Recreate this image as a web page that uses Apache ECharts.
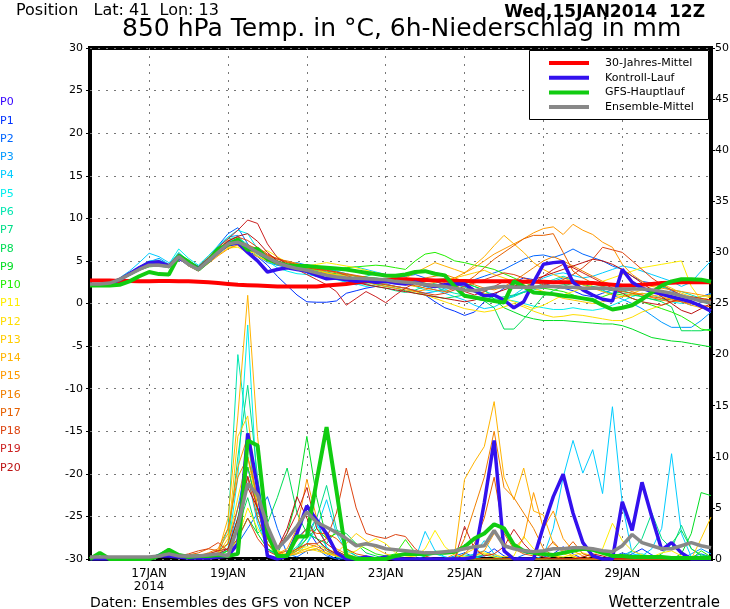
<!DOCTYPE html>
<html style="height: 100%">
<head>
    <meta charset="utf-8">
    <script src="https://cdn.jsdelivr.net/npm/echarts@6.0.0/dist/echarts.min.js"></script>
</head>
<body style="height: 100%; margin: 0; background: #fff">
    <div id="container" style="width: 730px; height: 609px"></div>
    <script type="text/javascript">
        var myChart = echarts.init(document.getElementById('container'));

        // time steps: 6-hourly from 15JAN 12Z (64 steps)
        const startDay = 15, startHour = 12, stepHours = 6, nSteps = 64;
        const times = [];
        for (let i = 0; i < nSteps; i++) {
            const h = startHour + i * stepHours;
            times.push((startDay + Math.floor(h / 24)) + 'JAN' + String(h % 24).padStart(2, '0') + 'Z');
        }
        const tickDays = ['17', '19', '21', '23', '25', '27', '29'];
        const yearLabel = '2014';

        const tempTicks = [-30, 30, 5];
        const precipTicks = [0, 50, 5];

        const memberNames = ['P0','P1','P2','P3','P4','P5','P6','P7','P8','P9','P10',
                             'P11','P12','P13','P14','P15','P16','P17','P18','P19','P20'];
        const memberColors = ['#3300ff','#0033ff','#0066ff','#0099ff','#00ccff','#00eeee','#00e6b0',
                              '#00dd88','#00dd55','#00dd22','#22ee00','#ffee00','#ffdd00','#ffcc00',
                              '#ffb300','#ff9900','#f08000','#e66000','#dd4411','#cc2222','#bb1111'];

        // 850 hPa temperature, members P1..P20 (°C)
        const memberTemp = [
            [2.2,2.2,2.3,2.7,3.3,4.0,4.6,4.7, 4.2,5.3,4.4,3.8,4.9,6.1,7.2,7.5, 6.2,5.5,4.5,3.2,2.1,1.0,0.2,0.15, 0.15,0.3,1.2,1.5,1.8,2.0,2.3,2.0, 1.8,1.5,1.0,0.2,-0.5,-0.9,-1.4,-1.0, 0.2,1.0,1.8,2.5,3.0,2.8,2.4,2.0, 1.8,1.5,1.0,0.8,1.2,1.6,2.0,2.2, 1.8,1.4,1.0,0.6,0.2,-0.2,0.1,0.4],
            [2.3,2.3,2.4,2.9,3.5,4.2,4.7,4.8, 4.4,5.8,4.8,4.1,5.2,6.8,8.2,8.9, 7.0,5.8,5.0,4.5,4.2,4.0,3.6,3.2, 3.0,2.9,2.5,2.2,2.4,2.6,2.8,3.0, 3.2,3.4,3.0,2.6,2.2,2.0,2.4,2.8, 3.2,3.6,4.0,4.6,5.2,5.6,5.7,5.4, 5.8,6.4,5.8,5.4,5.0,4.4,4.0,3.2, 2.6,2.4,2.0,1.5,1.0,0.6,0.8,1.2],
            [2.2,2.2,2.4,2.9,3.6,4.3,4.9,5.3, 4.6,5.9,4.9,4.2,5.3,6.6,7.8,8.0, 6.5,5.6,4.8,4.5,4.6,4.8,4.5,4.2, 4.0,3.8,3.5,3.2,3.0,2.6,2.2,2.0, 1.8,1.5,1.2,1.4,1.8,2.2,2.0,1.6, 1.2,0.9,0.6,0.9,1.4,1.8,2.2,2.6, 3.0,2.8,2.5,2.0,1.6,1.0,0.5,0.0, -0.6,-1.4,-2.2,-2.8,-2.8,-2.8,-2.0,-1.0],
            [2.3,2.3,2.5,3.0,3.8,4.8,5.9,5.5, 4.8,5.6,4.7,4.1,5.0,6.2,7.3,7.6, 6.8,6.0,5.2,4.6,4.3,4.1,4.0,3.8, 3.7,3.9,4.2,4.3,4.0,3.7,3.4,3.0, 2.7,2.4,2.0,1.6,1.2,0.8,0.4,-0.2, -0.6,-0.4,0.2,1.0,1.8,2.4,3.0,3.4, 3.6,3.3,3.0,3.2,3.6,4.0,4.4,4.2, 3.8,3.4,3.0,2.6,2.0,2.5,3.8,5.0],
            [2.2,2.2,2.3,2.8,3.5,4.3,5.0,5.1, 4.6,6.4,5.3,4.5,5.6,6.8,7.8,8.6, 8.2,6.4,5.0,4.2,3.8,3.5,3.4,3.2, 3.0,2.8,2.5,2.3,2.0,2.2,2.4,2.6, 2.4,2.0,1.6,1.4,1.6,2.0,2.4,2.0, 1.5,1.0,0.5,0.3,0.0,-0.3,-0.5,-0.7, -0.7,-0.5,-0.7,-0.8,-0.6,-0.2,0.3,0.8, 1.2,1.0,0.6,0.2,0.0,0.4,0.8,1.0],
            [2.3,2.3,2.4,2.8,3.5,4.2,4.8,4.9, 4.5,6.0,5.0,4.4,5.4,6.6,7.6,7.8, 6.9,5.9,5.0,4.6,4.4,4.2,4.0,3.9, 3.7,3.4,3.2,3.0,3.2,3.5,3.3,3.0, 2.8,2.6,2.4,2.0,1.5,1.2,1.0,0.8, 0.6,0.4,0.5,0.8,1.3,1.8,2.4,2.8, 3.2,2.8,2.2,1.8,1.5,1.2,1.4,1.8, 2.2,2.4,2.0,1.6,1.4,1.0,0.6,0.2],
            [2.2,2.2,2.3,2.7,3.3,3.9,4.4,4.4, 4.2,5.4,4.5,3.9,4.8,5.9,6.8,7.0, 6.5,6.0,5.5,5.0,4.6,4.4,4.1,3.8, 3.5,3.2,2.9,2.6,2.3,2.0,1.8,1.5, 1.3,1.6,2.0,2.4,2.6,2.3,1.9,1.4, 0.9,0.6,0.8,1.0,1.3,1.6,1.8,2.0, 2.2,2.4,2.6,2.3,2.0,1.8,1.5,1.2, 0.8,0.5,0.4,0.6,0.8,0.6,0.2,-0.1],
            [2.3,2.3,2.4,2.8,3.4,4.0,4.5,4.6, 4.4,5.5,4.7,4.1,5.1,6.2,7.1,7.4, 6.6,5.8,5.1,4.7,4.3,4.0,3.8,3.5, 3.3,3.1,2.9,2.7,2.5,2.3,2.0,1.8, 1.5,1.2,1.0,0.8,0.6,0.8,1.0,0.6, 0.3,-0.5,-3.0,-3.0,-1.8,-0.5,0.9,1.5, 2.0,2.4,2.2,2.0,1.8,1.5,1.2,1.0, 0.8,0.5,0.2,-0.4,-3.2,-3.2,-3.2,-3.0],
            [2.2,2.2,2.3,2.7,3.4,4.1,4.6,4.5, 4.3,5.4,4.6,4.0,4.9,5.9,6.9,7.2, 6.6,6.0,5.4,4.9,4.5,4.2,4.0,3.8, 3.6,3.5,3.4,3.2,3.1,3.0,2.8,2.6, 2.5,2.4,2.6,2.8,2.9,2.7,2.4,2.0, 1.6,0.5,-0.5,-1.0,-1.5,-1.8,-2.0,-2.0, -2.0,-2.1,-2.2,-2.3,-2.4,-2.4,-2.6,-3.0, -3.5,-4.0,-4.2,-4.4,-4.5,-4.7,-4.9,-5.1],
            [2.3,2.3,2.4,2.8,3.3,3.9,4.3,4.4, 4.3,5.3,4.5,3.9,4.8,5.8,6.8,7.1, 6.5,5.9,5.3,4.8,4.4,4.2,4.1,4.0, 4.0,4.1,4.2,4.3,4.4,4.5,4.4,4.2, 4.0,5.0,5.8,6.0,5.6,5.0,4.8,4.5, 4.3,4.0,3.5,3.0,2.5,2.0,1.8,1.6, 1.4,1.0,0.6,0.4,0.8,1.2,1.0,0.6, 0.2,-0.2,-0.6,-1.0,-1.5,-2.2,-3.0,-3.2],
            [2.2,2.2,2.4,2.9,3.6,4.2,4.6,4.5, 4.4,5.2,4.8,4.3,4.9,5.7,6.5,6.6, 6.0,6.0,6.2,5.5,4.8,4.6,4.4,4.6, 4.8,4.6,4.4,4.2,3.9,3.6,3.3,3.0, 2.8,2.6,2.4,2.2,2.0,1.8,1.6,1.4, 1.2,1.0,0.6,0.2,-0.2,-0.6,-0.2,0.4, 1.0,1.4,1.8,2.2,2.6,3.0,3.4,3.8, 4.2,4.4,4.6,4.8,5.0,2.0,0.4,0.8],
            [2.3,2.3,2.4,2.8,3.5,4.1,4.6,4.6, 4.2,5.3,4.6,4.0,4.9,6.0,6.9,7.0, 6.4,5.6,5.0,4.6,4.3,4.2,4.0,3.8, 3.6,3.4,3.2,3.0,2.8,2.5,2.2,2.0, 1.8,1.4,1.0,0.6,0.2,-0.2,-0.6,-0.8, -1.0,-0.8,-0.4,0.0,-0.4,-0.9,-1.3,-1.6, -1.5,-1.3,-1.4,-1.6,-1.8,-2.0,-2.0,-1.6, -1.0,-0.6,-0.2,0.2,0.4,0.6,0.8,1.0],
            [2.2,2.2,2.3,2.8,3.5,4.2,4.8,4.9, 4.4,5.6,4.6,4.0,5.1,6.1,6.6,6.8, 6.0,5.5,5.0,4.8,4.6,4.4,4.2,4.0, 3.6,3.3,3.1,3.0,2.8,2.6,2.5,2.4, 2.2,2.0,2.2,2.5,2.8,3.0,3.3,3.6, 3.9,3.4,3.0,2.6,2.2,1.8,1.4,1.0, 0.6,0.4,0.2,0.0,0.2,0.5,0.8,1.2, 1.6,2.0,2.3,1.8,1.2,0.8,0.5,0.3],
            [2.3,2.3,2.5,3.0,3.6,4.3,4.9,5.0, 4.5,5.4,4.4,3.8,4.8,5.9,6.9,7.0, 6.4,5.9,5.4,4.9,4.6,4.3,4.0,3.7, 3.5,3.3,3.0,2.8,2.6,2.4,2.4,2.6, 3.0,3.6,4.2,4.8,4.4,4.0,3.6,4.5, 5.5,6.8,8.0,7.0,6.0,4.8,4.0,3.4, 3.0,2.6,2.2,1.8,1.4,1.0,0.8,1.0, 1.2,1.0,0.8,0.5,0.2,-0.2,-0.5,-0.8],
            [2.2,2.2,2.3,2.8,3.4,4.0,4.5,4.7, 4.3,5.2,4.5,3.9,4.7,5.6,6.4,6.9, 6.6,6.2,5.6,5.0,4.6,4.2,3.9,3.6, 3.4,3.2,3.0,2.8,2.5,2.2,2.0,1.8, 1.6,1.4,1.6,2.0,2.5,3.0,3.6,4.2, 5.0,5.8,6.4,7.0,7.6,8.3,8.8,9.0, 8.1,9.3,8.6,8.1,7.2,6.6,4.6,3.4, 2.6,2.0,1.8,1.6,1.4,1.2,1.0,0.8],
            [2.3,2.3,2.4,2.8,3.4,4.1,4.7,4.8, 4.5,5.7,4.8,4.2,5.1,6.2,7.0,7.3, 6.8,6.2,5.6,5.2,5.0,4.7,4.4,4.0, 3.8,3.6,3.4,3.2,3.0,2.8,2.6,2.5, 2.6,2.8,3.0,3.2,3.4,3.0,2.6,2.2, 1.8,1.6,2.0,2.6,3.4,4.2,5.0,5.5, 5.0,4.4,3.8,3.2,2.6,2.2,1.8,1.4, 1.0,0.7,0.4,0.2,0.4,0.6,0.3,0.0],
            [2.2,2.2,2.3,2.8,3.5,4.2,4.8,4.8, 4.4,5.6,4.7,4.1,5.0,6.0,7.1,7.4, 6.9,6.4,5.7,5.3,4.9,4.6,4.3,4.1, 3.9,3.7,3.5,3.3,3.1,2.9,2.7,2.5, 2.3,2.1,1.8,1.6,1.4,1.8,2.4,3.2, 4.2,5.2,6.0,6.8,7.6,8.0,8.0,8.2, 6.0,3.8,3.0,2.4,2.0,1.6,1.4,1.2, 1.0,0.8,0.6,0.4,0.2,0.0,-0.2,-0.4],
            [2.3,2.3,2.4,2.9,3.5,4.2,4.7,4.6, 4.4,5.8,5.0,4.3,5.3,6.4,7.4,7.8, 7.4,6.6,5.8,5.2,4.8,4.5,4.2,4.0, 3.9,3.7,3.3,2.9,2.6,2.4,2.2,2.0, 1.8,1.5,1.2,1.0,1.2,1.6,2.0,2.4, 2.8,3.2,3.6,3.4,3.0,2.6,2.2,2.4, 2.8,3.4,4.2,5.2,6.6,6.3,6.0,5.0, 4.0,3.0,2.2,1.6,1.0,0.6,0.4,0.2],
            [2.2,2.2,2.4,2.9,3.6,4.3,4.8,4.9, 4.6,5.7,4.9,4.3,5.4,6.6,7.6,8.6, 9.8,9.4,7.0,5.4,4.6,4.0,3.4,2.8, 2.2,1.4,-0.2,0.6,1.4,0.8,0.1,1.0, 1.8,2.4,2.8,2.6,2.2,1.8,1.4,1.0, 1.4,2.0,2.6,2.2,1.8,2.4,3.2,4.0, 4.6,4.2,3.6,3.0,2.4,1.8,1.2,0.6, 0.2,0.0,-0.2,0.2,0.6,0.8,0.6,0.4],
            [2.3,2.3,2.4,2.8,3.4,4.0,4.5,4.6, 4.3,5.5,4.7,4.1,5.2,6.3,7.3,7.9, 8.2,7.3,6.0,5.0,4.6,4.3,4.0,3.7, 3.4,3.1,2.8,2.5,2.2,2.0,1.8,1.6, 1.4,1.2,1.0,0.8,0.6,0.4,0.2,0.4, 0.8,1.2,1.6,2.0,2.4,2.8,3.2,3.6, 4.0,4.4,4.8,5.2,5.0,4.6,4.0,3.2, 2.4,1.6,0.8,0.0,-0.8,-1.2,-0.6,0.0]
        ];

        // 6h precipitation, members P1..P20 (mm)
        const memberPrecip = [
            [0,0,0,0,0,0,0,0.3, 0.5,0.2,0.2,0.2,0.3,0.2,0.5,3.0, 9.0,5.0,1.0,0.3,0.5,2.0,3.0,1.5, 0.5,0,0,0,0,0,0,0, 0,0,0,0,0,0,0,0.2, 0.3,1.0,0.3,0,0,0,0,0.5, 1.2,0.5,0,0,0,0,0,0.5, 1.0,0.4,0,0,0,0,0,0],
            [0,0,0,0,0,0,0,0.2, 0.4,0.3,0.2,0.1,0.2,0.3,0.5,1.5, 3.0,4.5,6.1,3.0,0.5,0.2,0.8,1.0, 0.3,0,0,0,0,0,0,0, 0,0,0,0,0,0.3,0.6,0.2, 0,0,0,0,0.4,0.8,0.3,0, 0,0,0,0,0,0.2,0.6,0.3, 0,0,0,0,0,0.2,0.5,0.2],
            [0,0,0,0,0,0,0,0.5, 1.0,0.4,0.2,0.2,0.3,0.5,0.8,5.0, 10.0,6.0,2.0,0.5,0.3,1.0,2.5,4.0, 1.0,0.2,0,0,0,0,0,0, 0,0,0,0,0,0,0.2,0.5, 0.8,0.3,0,0,0,0,0,0, 0,0,0,0,0,0,0.3,0.8, 0.4,0,0,0,0,0.5,1.0,0.5],
            [0,0,0,0,0,0,0,0.3, 0.6,0.3,0.2,0.2,0.2,0.3,1.0,4.0, 8.0,3.5,1.0,0.3,0.2,0.5,1.5,3.0, 5.8,2.5,0.8,0.3,0,0,0,0, 0,0,2.7,0.8,0.2,0,0,0.5, 1.8,0.5,0,0,0,0,0.3,3.0, 8.0,11.6,8.4,10.7,6.4,14.9,5.4,0.5, 0.3,1.0,3.0,10.3,2.5,0.2,0,0],
            [0,0,0,0,0,0,0,0.2, 0.4,0.2,0.1,0.1,0.2,0.3,1.0,8.0, 22.9,6.0,1.5,0.5,0.2,0.8,1.5,3.5, 1.2,0.3,0,0,0,0,0,0, 0,0,0.3,0.5,0.2,0,0,0, 0,0,0,0,0,0,0,0, 0,0,0,0,0,0,0,0.3, 0.5,0.2,0,0,0,0,0,0],
            [0,0,0,0,0,0,0,0.3, 0.6,0.3,0.2,0.2,0.3,0.4,3.0,20.0, 12.0,4.0,1.0,0.3,0.5,1.2,2.5,2.0, 0.8,0.2,0,0,0,0,0,0, 0,0,0,0,0,0.2,0.4,0.2, 0,0,0,0,0,0,0,0, 0,0,0,0,0,0,0,0, 0,0,0,0,0,0,0,0],
            [0,0,0,0,0,0,0,0.4, 0.7,0.3,0.2,0.2,0.3,0.4,1.5,10.0, 17.0,8.0,2.0,0.5,0.3,0.8,2.0,4.0, 7.2,3.0,1.0,0.3,0,0,0,0, 0,0,0,0,0,0,0,0.2, 0.4,0.2,0,0,0,0,0,0, 0,0,0,0,0,0,0,0.8, 2.0,4.5,2.0,1.0,3.3,1.0,0.3,0],
            [0,0,0,0,0,0,0,0.2, 0.3,0.2,0.1,0.1,0.2,0.3,0.8,3.0, 6.0,2.5,3.5,6.0,8.9,4.5,2.5,2.0, 1.5,2.8,2.5,1.5,0.6,0.3,0,0, 0,0,0,0,0,0,0,0, 0,0,0,0,0,0,0,0, 0,0,0,0,0,0,0,0, 0,0,0.5,1.5,2.8,1.0,0.4,0.2],
            [0,0,0,0,0,0,0,0.3, 0.6,0.2,0.2,0.1,0.2,0.3,0.5,2.0, 4.0,2.5,1.0,0.5,2.5,6.0,12.0,6.0, 2.0,0.8,0.3,0,0,0,0,0, 0,0,0,0,0,0,0,0, 0,0,0,0,0,0,0,0, 0,0,0,0,0,0,0,0, 0,0,0,0,0.5,2.5,6.5,6.2],
            [0,0,0,0,0,0,0,0.3, 0.5,0.2,0.2,0.2,0.3,0.4,0.8,4.0, 9.0,5.0,1.5,0.3,0.3,1.0,2.0,3.0, 2.0,2.5,2.0,1.5,1.0,0.5,0.3,0.5, 1.9,0.6,0.2,0,0,0,0,0, 0,0,0,0,0,0,0,0, 0,0,0,0,0,0,0,0, 0,0,0,0,0,0,0.8,0.2],
            [0,0,0,0,0,0,0,0.2, 0.3,0.2,0.1,0.1,0.2,0.2,0.5,2.0, 5.0,3.0,1.5,0.8,0.5,1.0,1.2,1.0, 0.6,0.3,0.5,0.8,1.5,2.0,1.5,0.6, 0.3,0.2,1.0,2.8,1.2,0.4,0.2,0.3, 0.6,0.4,0.2,0.3,2.2,1.0,0.5,0.3, 0.2,0.4,0.6,0.3,1.0,3.5,1.8,0.8, 0.4,0.2,0.6,0.8,0.3,0,0,0],
            [0,0,0,0,0,0,0,0.2, 0.3,0.2,0.2,0.1,0.3,0.5,1.5,6.0, 10.0,5.0,2.0,0.6,0.3,0.8,1.0,0.8, 0.5,0.3,0.2,0,0,0,0,0, 0,0,0,0,0,0,0.5,1.0, 0.5,0.2,0,0,0,0,0,0.3, 0.5,0.2,0,0,0,0,0,0, 0,0,0,0,0,0,0,0],
            [0,0,0,0,0,0,0,0.3, 0.5,0.3,0.2,0.2,0.3,0.5,2.0,12.0, 14.0,6.0,2.0,0.5,0.3,0.6,1.0,1.4, 1.0,0.6,1.5,2.5,1.8,1.0,0.5,0.2, 0,0,0,0,0,0,0,0, 0,0,0,0,0,0,0,0, 0,0,0,0,0,0,0,0, 0,0,0,0,0,0,2.0,4.1],
            [0,0,0,0,0,0,0,0.2, 0.4,0.3,0.2,0.2,0.4,0.6,4.0,14.0, 25.8,12.0,3.0,0.8,0.3,0.5,0.8,1.0, 0.6,0.3,0,0,0,0,0,0, 0,0,0,0,0,0.5,7.8,9.5, 11.0,15.4,8.0,5.8,8.9,4.7,4.3,1.5, 0.8,0.3,0,0,0,0,0,0, 0,0,0,0,0,0,0,0],
            [0,0,0,0,0,0,0,0.2, 0.3,0.2,0.2,0.3,0.5,0.8,2.5,9.0, 12.0,5.0,1.5,0.5,1.0,3.0,7.8,4.0, 2.0,1.0,0.5,0.2,0,0,0,0, 0,0,0,0,0,0,0,0.3, 0.8,2.5,1.5,1.0,2.0,6.5,3.0,4.7, 2.0,0.8,0.3,0,0,0,0,0, 0,0,0,0,0,0,0,0],
            [0,0,0,0,0,0,0,0.3, 0.5,0.3,0.2,0.3,0.6,1.0,3.0,8.0, 10.0,6.0,2.0,0.6,0.3,0.8,1.5,1.2, 0.8,0.4,0.2,0,0,0,0,0, 0,0,0,0,0,0,2.0,5.0, 8.0,12.5,7.0,6.0,4.5,3.0,1.0,0.3, 0,0,0,0,0,0,0,0, 0,0,0,0,0,0,0,0],
            [0,0,0,0,0,0,0,0.3, 0.6,0.4,0.4,0.6,1.0,0.8,1.5,5.0, 8.0,4.0,1.5,0.5,0.8,1.8,3.0,2.5, 2.5,2.0,1.0,0.5,0.3,0,0,0, 0,0,0,0,0,0,0.5,1.5, 4.0,8.0,2.5,1.0,0.5,0.3,0.6,1.7, 0.6,1.7,0.5,0.2,0,0,0,0, 0,0,0,0,0,0,0,0],
            [0,0,0,0,0,0,0,0.2, 0.4,0.3,0.5,0.8,1.0,1.6,0.8,2.0, 4.0,2.0,0.8,0.3,0.5,1.0,1.5,1.5, 2.0,4.5,8.9,5.0,2.5,2.2,2.0,2.4, 2.2,1.0,0.3,0,0,0,0,0, 0,0,0,0,0,0,0,0, 0,0,0,0,0,0,0,0, 0,0,0,0,0,0,0,0],
            [0,0,0,0,0,0,0,0.2, 0.3,0.2,0.2,0.3,0.5,0.8,1.0,3.0, 8.1,5.0,2.0,1.0,2.5,4.5,7.0,3.0, 1.5,0.8,0.3,0,0,0,0,0, 0,0,0,0,0,0,3.2,1.0, 0.3,0.5,1.2,2.9,1.5,0.5,0.2,0, 0,0,0,0,0,0,0,0, 0,0,0,0,0,0,0,0],
            [0,0,0,0,0,0,0,0.3, 0.5,0.3,0.2,0.2,0.3,0.5,1.0,4.0, 7.0,5.0,2.5,1.0,3.0,6.1,4.0,2.0, 1.0,0.5,0.2,0,0,0,0,0, 0,0,0,0,0,0,0,0, 0,0,0,0,0,0,0,0, 0,0,0.2,0.5,0.3,0,0,0, 0,0,0,0,0,0,0,0]
        ];

        // highlighted runs
        const climateTemp = [2.7,2.7,2.7,2.65,2.65,2.6,2.6,2.65, 2.65,2.6,2.6,2.55,2.5,2.4,2.3,2.2, 2.15,2.1,2.05,2.0,2.0,2.0,2.0,2.0, 2.1,2.2,2.3,2.45,2.6,2.7,2.8,2.85, 2.85,2.8,2.75,2.7,2.7,2.65,2.65,2.6, 2.6,2.6,2.6,2.6,2.55,2.55,2.55,2.5, 2.5,2.5,2.45,2.4,2.3,2.2,2.1,2.1, 2.2,2.3,2.4,2.45,2.5,2.5,2.5,2.5];
        const controlTemp = [2.2,2.2,2.3,2.8,3.5,4.2,4.8,4.9, 4.4,5.3,4.8,4.1,5.0,6.0,6.9,7.1, 6.0,5.0,3.7,4.0,4.2,4.0,3.8,3.3, 2.9,3.0,2.8,2.6,2.7,2.5,2.6,2.4, 2.3,2.5,2.2,2.0,2.2,2.3,2.3,1.5, 0.9,1.0,0.4,-0.5,0.2,2.5,4.6,4.8, 4.9,2.5,1.6,1.0,0.5,0.3,4.0,2.5, 1.8,1.4,1.1,0.8,0.5,0.2,-0.3,-0.9];
        const controlPrecip = [0,0,0,0,0,0,0,0.3, 0.3,0.2,0.1,0.1,0.1,0.2,0.3,1.5, 12.3,7.0,0.3,0,0.3,2.5,5.2,3.8, 2.5,0.6,0,0,0.2,0,0.2,0, 0,0,0,0,0,0,0,0.2, 5.5,11.6,0.8,0,0,0,3.2,6.1, 8.3,4.5,1.6,0.3,0,0,5.6,2.8, 7.5,4.1,0.9,1.6,0.6,0,0,0];
        const gfsTemp = [2.1,2.1,2.1,2.2,2.6,3.2,3.7,3.45, 3.4,5.6,4.9,4.0,5.0,6.4,6.9,7.5, 6.3,6.4,5.2,4.8,4.5,4.4,4.4,4.3, 4.2,4.1,4.0,3.8,3.6,3.45,3.3,3.25, 3.4,3.7,3.8,3.5,3.3,2.0,0.9,0.7, 0.5,0.3,0.1,2.6,2.0,1.3,1.2,1.1, 0.9,0.8,0.6,0.4,-0.2,-0.7,-0.5,-0.2, 0.5,1.3,2.1,2.6,2.85,2.85,2.8,2.55];
        const gfsPrecip = [0,0.6,0,0,0,0,0,0.3, 0.9,0.4,0.2,0.3,0.3,0.4,0.3,0.5, 11.6,11.1,2.5,0.3,0.3,2.2,2.2,7.7, 12.9,6.7,0.3,0,0,0,0,0.3, 0.5,0.5,0.5,0.6,0.6,0.7,1.2,2.0, 2.5,3.4,3.0,1.4,0.8,0.6,0.5,0.4, 0.6,0.8,1.0,0.9,0.6,0.3,0.3,0.2, 0.2,0.2,0.2,0.1,0.1,0.1,0.1,0.1];
        const meanTemp = [2.3,2.3,2.4,2.8,3.4,4.0,4.5,4.5, 4.35,5.5,4.6,4.0,5.0,6.0,7.0,7.2, 6.7,6.0,5.4,4.8,4.4,4.1,3.9,3.6, 3.3,3.1,3.0,2.95,2.9,2.85,2.8,2.6, 2.5,2.4,2.2,2.1,2.0,1.8,1.6,1.5, 1.7,1.9,2.0,1.9,1.9,1.9,2.0,2.0, 1.9,1.9,1.8,1.8,1.8,1.7,1.7,1.7, 1.7,1.6,1.4,1.2,0.9,0.6,0.3,0.1];
        const meanPrecip = [0.2,0.2,0.2,0.2,0.2,0.2,0.2,0.3, 0.5,0.3,0.3,0.3,0.4,0.5,0.3,3.2, 7.4,6.3,3.2,1.0,2.0,3.2,4.6,3.6, 3.1,2.6,2.0,1.3,1.5,1.3,1.0,0.9, 0.8,0.7,0.6,0.6,0.7,0.8,1.0,1.2, 1.3,2.8,1.3,1.0,0.8,0.7,0.8,1.0, 1.0,1.1,1.1,1.0,0.8,0.7,1.3,2.4, 1.6,1.3,1.0,1.0,1.3,1.6,1.3,1.1];

        const legendNames = ['30-Jahres-Mittel', 'Kontroll-Lauf', 'GFS-Hauptlauf', 'Ensemble-Mittel'];
        const legendColors = ['#ff0000', '#3311ee', '#11cc11', '#888888'];

        const fontName = 'DejaVu Sans';
        const gridStyle = { color: '#777', width: 1, type: [2, 6] };

        function isDateTick(index) {
            const v = times[index];
            return v.endsWith('00Z') && tickDays.indexOf(v.slice(0, 2)) >= 0;
        }

        function line(name, data, axis, color, width, z) {
            return {
                name: name, type: 'line', yAxisIndex: axis, data: data,
                symbol: 'none', silent: true, z: z,
                itemStyle: { color: color },
                lineStyle: { color: color, width: width }
            };
        }

        var series = [];
        for (let k = 0; k < memberTemp.length; k++) {
            series.push(line(memberNames[k + 1], memberTemp[k], 0, memberColors[k + 1], 1, 2));
            series.push(line(memberNames[k + 1], memberPrecip[k], 1, memberColors[k + 1], 1, 2));
        }
        series.push(line(legendNames[0], climateTemp, 0, legendColors[0], 4, 3));
        series.push(line(legendNames[1], controlTemp, 0, legendColors[1], 3.5, 3));
        series.push(line(legendNames[1], controlPrecip, 1, legendColors[1], 3.5, 3));
        series.push(line(legendNames[2], gfsTemp, 0, legendColors[2], 4, 3));
        series.push(line(legendNames[2], gfsPrecip, 1, legendColors[2], 4, 3));
        series.push(line(legendNames[3], meanTemp, 0, legendColors[3], 3.5, 3));
        series.push(line(legendNames[3], meanPrecip, 1, legendColors[3], 3.5, 3));

        var labels = memberNames.map(function (n, k) {
            return {
                type: 'text', left: 0, top: 97 + k * 18.27, z: 10,
                style: { text: n, fill: memberColors[k], font: '11px "' + fontName + '"' }
            };
        });
        labels.push({
            type: 'rect', z: 5,
            shape: { x: 529.5, y: 50.5, width: 179, height: 69 },
            style: { fill: '#fff', stroke: '#000', lineWidth: 1 }
        });

        var option = {
            animation: false,
            backgroundColor: '#fff',
            textStyle: { fontFamily: fontName },
            title: [
                { text: 'Position   Lat: 41  Lon: 13', left: 16, top: 3, padding: 0,
                  textStyle: { fontSize: 16, fontWeight: 'normal', color: '#000' } },
                { text: 'Wed,15JAN2014  12Z', right: 25, top: 4, padding: 0,
                  textStyle: { fontSize: 17, fontWeight: 'bold', color: '#000' } },
                { text: '850 hPa Temp. in °C, 6h-Niederschlag in mm', left: 122, top: 17, padding: 0,
                  textStyle: { fontSize: 25, fontWeight: 'normal', color: '#000' } },
                { text: 'Daten: Ensembles des GFS von NCEP', left: 90, top: 596, padding: 0,
                  textStyle: { fontSize: 14, fontWeight: 'normal', color: '#000' } },
                { text: 'Wetterzentrale', right: 10, top: 596, padding: 0,
                  textStyle: { fontSize: 15, fontWeight: 'normal', color: '#000' } }
            ],
            legend: {
                data: legendNames,
                orient: 'vertical',
                left: 530, top: 50,
                padding: [6, 4, 4, 19],
                itemGap: 0.7,
                itemWidth: 40, itemHeight: 4,
                icon: 'rect',
                z: 11,
                selectedMode: false,
                textStyle: { fontSize: 11, color: '#000', lineHeight: 14, padding: [0, 0, 0, 11] }
            },
            grid: {
                left: 90, right: 19, top: 48, bottom: 50,
                containLabel: false, outerBoundsMode: 'none',
                show: true, borderColor: '#000', borderWidth: 4, backgroundColor: '#fff'
            },
            xAxis: {
                type: 'category',
                data: times,
                boundaryGap: false,
                axisLine: { show: false },
                axisTick: { show: false },
                axisLabel: {
                    interval: isDateTick, margin: 8, fontSize: 12, color: '#000', lineHeight: 13,
                    formatter: function (v) { return v.slice(0, 5) + (v.slice(0, 2) === tickDays[0] ? '\n' + yearLabel : ''); }
                },
                splitLine: { show: true, interval: isDateTick, lineStyle: gridStyle }
            },
            yAxis: [
                {
                    type: 'value', min: tempTicks[0], max: tempTicks[1], interval: tempTicks[2],
                    axisLine: { show: false },
                    axisTick: { show: true, length: 4, lineStyle: { color: '#000' } },
                    axisLabel: { fontSize: 11, color: '#000', margin: 7 },
                    splitLine: { show: true, lineStyle: gridStyle }
                },
                {
                    type: 'value', min: precipTicks[0], max: precipTicks[1], interval: precipTicks[2],
                    position: 'right',
                    axisLine: { show: false },
                    axisTick: { show: true, length: 4, lineStyle: { color: '#000' } },
                    axisLabel: { fontSize: 11, color: '#000', margin: 4 },
                    splitLine: { show: false }
                }
            ],
            graphic: labels,
            series: series
        };

        myChart.setOption(option);
        window.addEventListener('resize', function () { myChart.resize(); });
    </script>
</body>
</html>
